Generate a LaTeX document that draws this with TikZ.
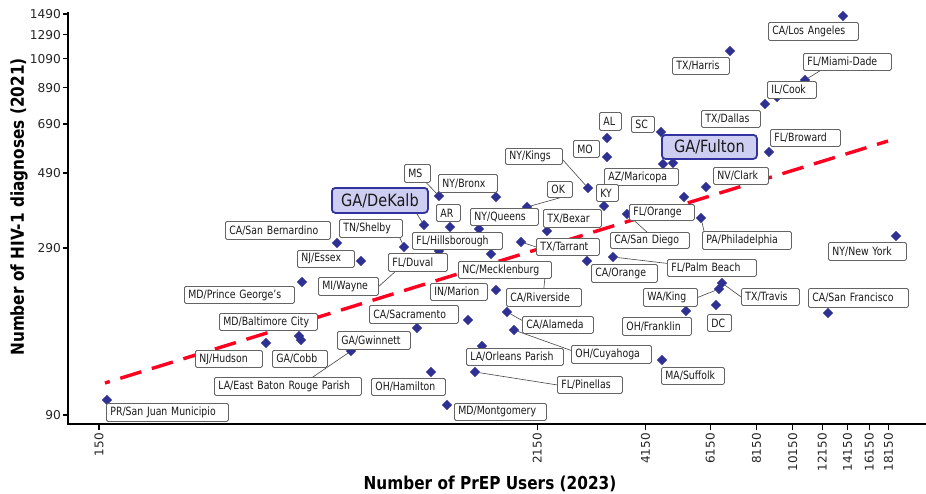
\documentclass[tikz,border=0pt]{standalone}
\usepackage{fontspec}
\setmainfont{DejaVu Sans}
\newfontfamily\labfont[FakeStretch=0.82]{DejaVu Sans}
\newfontfamily\condfont[FakeStretch=0.86]{DejaVu Sans}
\usetikzlibrary{shapes.geometric}
\definecolor{navy}{RGB}{46,49,146}
\definecolor{trend}{RGB}{255,0,32}
\definecolor{lblborder}{RGB}{100,100,100}
\definecolor{bigfill}{RGB}{206,206,242}
\definecolor{bigborder}{RGB}{51,51,160}
\definecolor{leadc}{RGB}{70,70,70}
\pgfdeclarelayer{back}
\pgfdeclarelayer{bg}
\pgfsetlayers{back,bg,main}
\tikzset{
  lab/.style={draw=lblborder, fill=white, line width=0.8pt, rounded corners=1.5pt,
    inner xsep=4pt, inner ysep=0pt, align=left, text=black!90, font=\labfont\fontsize{11.4}{13}\selectfont},
  biglab/.style={draw=bigborder, fill=bigfill, line width=1.8pt, rounded corners=3.5pt,
    inner xsep=4pt, inner ysep=0pt, align=center, text=black!90, font=\condfont\fontsize{16.9}{19}\selectfont},
  dia/.style={shape=diamond, fill=navy, inner sep=0pt, minimum size=10.5pt},
  lead/.style={draw=leadc, line width=0.6pt},
  axisline/.style={line width=1.8pt, black},
  tickline/.style={line width=1.4pt, black},
  ytick/.style={anchor=east, inner sep=0pt, font=\fontsize{12.2}{14}\selectfont, text=black!85},
  xtick/.style={rotate=90, anchor=east, inner sep=0pt, font=\fontsize{12}{14}\selectfont, text=black!85},
  axtitle/.style={inner sep=0pt, font=\condfont\fontsize{17.8}{20}\selectfont\bfseries}
}
\newcommand\lbl[7][lab]{%
  \pgfmathsetmacro\mylw{#5-#3-8}%
  \pgfmathsetmacro\mylh{#6-#4}%
  \node[#1, anchor=north west, text width=\mylw pt, minimum height=\mylh pt] (#2) at (#3,#4) {#7};}
\newcommand\dia[3]{\node[dia] (#1) at (#2,#3) {};}
\begin{document}
\begin{tikzpicture}[x=1pt,y=-1pt]
\useasboundingbox (0,0) rectangle (926,493);
\begin{pgfonlayer}{back}
\fill[white] (0,0) rectangle (926,493);
\end{pgfonlayer}
% axes
\draw[axisline] (68,12) -- (68,424) -- (926,424);
\foreach \v/\y in {90/415, 290/247.8, 490/172.9, 690/124.0, 890/87.6, 1090/58.6, 1290/34.6, 1490/14.0} {
  \draw[tickline] (63,\y) -- (68,\y);
  \node[ytick, name=yt\v] at (61,\y) {\v};
}
\foreach \v/\x in {150/99, 2150/537.3, 4150/645.5, 6150/710.2, 8150/756.6, 10150/792.7, 12150/822.3, 14150/847.4, 16150/869.2, 18150/888.4} {
  \draw[tickline] (\x,424) -- (\x,429.5);
  \node[xtick, name=xt\v] at (\x,433) {\v};
}
\node[axtitle] (xtitle) at (490,484) {Number of PrEP Users (2023)};
\node[axtitle, rotate=90] (ytitle) at (19,207) {Number of HIV-1 diagnoses (2021)};
% points
\dia{pLA}{843}{16}
\dia{pHarris}{730}{51}
\dia{pMiami}{805}{80}
\dia{pCook}{777}{97}
\dia{pDallas}{765}{104}
\dia{pBroward}{769}{152}
\dia{pSC}{661}{132}
\dia{pFulton}{673}{163}
\dia{pMaricopa}{663}{164}
\dia{pAL}{607}{138}
\dia{pMO}{607}{157}
\dia{pKings}{588}{188}
\dia{pKY}{604}{206}
\dia{pClark}{706}{187}
\dia{pOrange}{684}{197}
\dia{pSanDiego}{627}{214}
\dia{pPhil}{701}{218}
\dia{pNY}{896}{236}
\dia{pMS}{439}{196}
\dia{pBronx}{496}{197}
\dia{pDeKalb}{424}{225}
\dia{pAR}{450}{227}
\dia{pOK}{527}{207}
\dia{pQueens}{479}{229}
\dia{pBexar}{547}{231}
\dia{pBern}{337}{243}
\dia{pShelby}{404}{247}
\dia{pHills}{439}{251}
\dia{pTarrant}{521}{242}
\dia{pMeck}{491}{254}
\dia{pEssex}{361}{261}
\dia{pCAOrange}{587}{261}
\dia{pPalm}{613}{257}
\dia{pPG}{302}{282}
\dia{pMarion}{496}{290}
\dia{pTravis}{722}{283}
\dia{pKing}{719}{289}
\dia{pDC}{716}{305}
\dia{pFranklin}{686}{311}
\dia{pSF}{828}{313}
\dia{pAlameda}{507}{312}
\dia{pExtra}{468}{320}
\dia{pSac}{417}{328}
\dia{pCuy}{514}{330}
\dia{pCobbA}{299}{336}
\dia{pCobbB}{301}{340}
\dia{pHudson}{266}{343}
\dia{pOrleans}{482}{346}
\dia{pGwinnett}{351}{351}
\dia{pSuffolk}{662}{360}
\dia{pHamilton}{431}{372}
\dia{pPinellas}{475}{372}
\dia{pMontgomery}{447}{405}
\dia{pPR}{107}{400}
% labels
\lbl{lLA}{768}{22}{858}{40}{CA/Los Angeles}
\lbl{lHarris}{672}{57}{729}{74}{TX/Harris}
\lbl{lMiami}{803}{53}{891}{70}{FL/Miami-Dade}
\lbl{lCook}{767}{81}{816}{98}{IL/Cook}
\lbl{lDallas}{701}{110}{760}{127}{TX/Dallas}
\lbl{lBroward}{770}{129}{840}{146}{FL/Broward}
\lbl{lAL}{599}{112}{621}{130}{AL}
\lbl{lSC}{631}{116}{654}{132}{SC}
\lbl{lMO}{573}{140}{599}{157}{MO}
\lbl[biglab]{lFulton}{661}{134}{756}{158}{GA/Fulton}
\lbl{lKings}{505}{148}{562}{164}{NY/Kings}
\lbl{lMaricopa}{604}{168}{678}{185}{AZ/Maricopa}
\lbl{lClark}{713}{167}{768}{184}{NV/Clark}
\lbl{lKY}{596}{184}{618}{201}{KY}
\lbl{lMS}{404}{164}{430}{182}{MS}
\lbl{lBronx}{438}{174}{497}{192}{NY/Bronx}
\lbl[biglab]{lDeKalb}{331}{187}{427}{212}{GA/DeKalb}
\lbl{lOK}{547}{181}{572}{197}{OK}
\lbl{lAR}{436}{204}{460}{221}{AR}
\lbl{lQueens}{470}{208}{538}{225}{NY/Queens}
\lbl{lBexar}{543}{209}{601}{227}{TX/Bexar}
\lbl{lOrange}{629}{204}{694}{220}{FL/Orange}
\lbl{lBern}{225}{221}{330}{239}{CA/San Bernardino}
\lbl{lShelby}{339}{219}{402}{237}{TN/Shelby}
\lbl{lHills}{412}{232}{502}{249}{FL/Hillsborough}
\lbl{lSanDiego}{610}{232}{689}{248}{CA/San Diego}
\lbl{lPhil}{702}{231}{791}{249}{PA/Philadelphia}
\lbl{lTarrant}{536}{238}{599}{255}{TX/Tarrant}
\lbl{lNY}{828}{242}{906}{260}{NY/New York}
\lbl{lEssex}{297}{250}{354}{267}{NJ/Essex}
\lbl{lDuval}{388}{253}{447}{271}{FL/Duval}
\lbl{lPalm}{667}{259}{756}{276}{FL/Palm Beach}
\lbl{lCAOrange}{591}{264}{657}{282}{CA/Orange}
\lbl{lMeck}{458}{261}{551}{278}{NC/Mecklenburg}
\lbl{lWayne}{318}{277}{378}{295}{MI/Wayne}
\lbl{lMarion}{430}{283}{487}{300}{IN/Marion}
\lbl{lPG}{184}{286}{294}{303}{MD/Prince George’s}
\lbl{lRiverside}{506}{288}{581}{306}{CA/Riverside}
\lbl{lKing}{643}{288}{697}{306}{WA/King}
\lbl{lTravis}{741}{288}{799}{305}{TX/Travis}
\lbl{lSF}{808}{288}{908}{307}{CA/San Francisco}
\lbl{lSac}{369}{305}{458}{323}{CA/Sacramento}
\lbl{lBalt}{219}{313}{317}{330}{MD/Baltimore City}
\lbl{lDC}{707}{314}{731}{331}{DC}
\lbl{lAlameda}{522}{316}{593}{333}{CA/Alameda}
\lbl{lFranklin}{622}{317}{691}{335}{OH/Franklin}
\lbl{lGwinnett}{337}{331}{410}{349}{GA/Gwinnett}
\lbl{lCuy}{571}{345}{651}{363}{OH/Cuyahoga}
\lbl{lOrleans}{466}{348}{563}{365}{LA/Orleans Parish}
\lbl{lHudson}{195}{350}{262}{367}{NJ/Hudson}
\lbl{lCobb}{272}{350}{327}{367}{GA/Cobb}
\lbl{lSuffolk}{661}{367}{724}{384}{MA/Suffolk}
\lbl{lEBR}{214}{377}{361}{395}{LA/East Baton Rouge Parish}
\lbl{lHamilton}{371}{378}{445}{395}{OH/Hamilton}
\lbl{lPinellas}{557}{376}{622}{393}{FL/Pinellas}
\lbl{lPR}{106}{403}{228}{421}{PR/San Juan Municipio}
\lbl{lMontgomery}{454}{403}{546}{420}{MD/Montgomery}
% background: trend line and leaders
\begin{pgfonlayer}{bg}
\coordinate (t1) at (105,383);
\coordinate (t2) at (888,141);
\draw[trend, line width=3.4pt, dash pattern=on 22pt off 11pt, dash phase=17pt] (t1) -- (t2);
\draw[lead] (lMS) -- (pMS);
\draw[lead] ([xshift=-12pt]lDeKalb.south east) -- (pDeKalb);
\draw[lead] ([xshift=-3pt]lShelby.south east) -- (pShelby);
\draw[lead] (lOK.south) -- (pOK);
\draw[lead] ([yshift=5pt]lKings.south east) -- (pKings);
\draw[lead] (lTarrant.west) -- (pTarrant);
\draw[lead] ([xshift=-3pt]lSanDiego.north) -- (pSanDiego);
\draw[lead] ([xshift=2pt]lPhil.north west) -- (pPhil);
\draw[lead] ([yshift=4.5pt]lPalm.west) -- (pPalm);
\draw[lead] ([xshift=17pt]lMiami.south west) -- (pMiami);
\draw[lead] (lTravis.west) -- (pTravis);
\draw[lead] (lKing.east) -- (pKing);
\draw[lead] ([xshift=-7pt]lMeck.south east) -- (lRiverside.north);
\draw[lead] ([yshift=4.5pt]lAlameda.west) -- (pAlameda);
\draw[lead] ([yshift=4pt]lCuy.west) -- (pCuy);
\draw[lead] (lPinellas.west) -- (pPinellas);
\draw[lead] ([xshift=25pt]lEBR.north) -- (pGwinnett);
\draw[lead] (lWayne.east) -- ([xshift=7pt]lDuval.south west);
\end{pgfonlayer}
\end{tikzpicture}
\end{document}
